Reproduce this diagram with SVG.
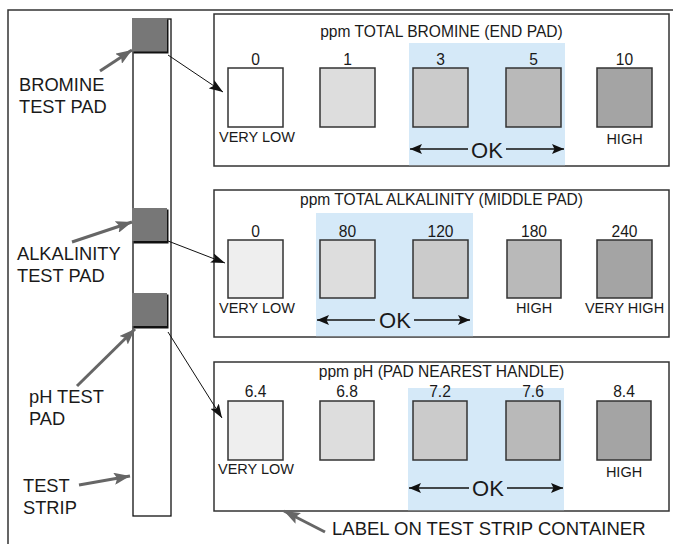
<svg xmlns="http://www.w3.org/2000/svg" width="673" height="544" viewBox="0 0 673 544">
<defs>
<style>
text{font-family:"Liberation Sans",Arial,sans-serif;fill:#1a1a1a}
.frame{fill:none;stroke:#333;stroke-width:1.5}
.panel{fill:#fff;stroke:#333;stroke-width:1.5}
.band{fill:#d5e9f8}
.sw{stroke:#333;stroke-width:1.5}
.title{font-size:15.6px;text-anchor:middle}
.num{font-size:15.6px;text-anchor:middle}
.lbl{font-size:14.5px;text-anchor:middle}
.ok{font-size:22px;text-anchor:middle}
.side{font-size:18.3px}
.okl{stroke:#111;stroke-width:1.3;fill:none}
.conn{stroke:#111;stroke-width:1;fill:none}
.gray{stroke:#666;stroke-width:3;fill:none}
.pad{fill:#777}
.padsh{fill:#111}
</style>
<marker id="ah" viewBox="0 0 14 10" refX="14" refY="5" markerWidth="14" markerHeight="10" markerUnits="userSpaceOnUse" orient="auto"><path d="M0,0 L14,5 L0,10 L3,5 Z" fill="#111"/></marker>
<marker id="okh" viewBox="0 0 12 10" refX="12" refY="5" markerWidth="12" markerHeight="10" markerUnits="userSpaceOnUse" orient="auto-start-reverse"><path d="M0,0 L12,5 L0,10 L2.5,5 Z" fill="#111"/></marker>
<marker id="gh" viewBox="0 0 16 12" refX="16" refY="6" markerWidth="16" markerHeight="12" markerUnits="userSpaceOnUse" orient="auto"><path d="M0,0 L16,6 L0,12 L3,6 Z" fill="#666"/></marker>
</defs>
<rect class="frame" x="8" y="10" width="700" height="600"/>

<g id="strip">
<rect x="133" y="19" width="38" height="497" fill="#fff" stroke="#111" stroke-width="1.3"/>
</g>
<g id="bromine-pad"><rect class="padsh" x="133.5" y="19.5" width="35" height="34"/><rect class="pad" x="132" y="18" width="35" height="33.5"/></g>
<g id="alkalinity-pad"><rect class="padsh" x="133.5" y="209.5" width="35" height="34"/><rect class="pad" x="132" y="208" width="35" height="33"/></g>
<g id="ph-pad"><rect class="padsh" x="133.5" y="294.5" width="35" height="34"/><rect class="pad" x="132" y="293" width="35" height="33"/></g>

<g id="side-labels">
<text class="side" x="19" y="91">BROMINE</text>
<text class="side" x="19" y="113">TEST PAD</text>
<text class="side" x="17" y="260">ALKALINITY</text>
<text class="side" x="17" y="282">TEST PAD</text>
<text class="side" x="29" y="403">pH TEST</text>
<text class="side" x="29" y="425">PAD</text>
<text class="side" x="23" y="492">TEST</text>
<text class="side" x="23" y="514">STRIP</text>
<text class="side" x="332" y="535" style="font-size:18.5px">LABEL ON TEST STRIP CONTAINER</text>
</g>

<g id="panel-bromine">
<rect class="panel" x="214" y="14" width="455" height="152"/>
<rect class="band" x="409" y="43" width="156" height="122.2"/>
<text class="title" x="441.5" y="37">ppm TOTAL BROMINE (END PAD)</text>
<rect class="sw" x="228" y="68" width="55" height="59" fill="#ffffff"/>
<rect class="sw" x="320" y="68" width="55" height="59" fill="#dddddd"/>
<rect class="sw" x="413" y="68" width="55" height="59" fill="#cbcbcb"/>
<rect class="sw" x="506" y="68" width="55" height="59" fill="#b9b9b9"/>
<rect class="sw" x="597" y="68" width="55" height="59" fill="#a4a4a4"/>
<text class="num" x="255.5" y="65">0</text>
<text class="num" x="347.5" y="65">1</text>
<text class="num" x="440.5" y="65">3</text>
<text class="num" x="533.5" y="65">5</text>
<text class="num" x="624.5" y="65">10</text>
<text class="lbl" x="257" y="142">VERY LOW</text>
<text class="lbl" x="624.5" y="144">HIGH</text>
<line class="okl" x1="410" y1="149" x2="468" y2="149" marker-start="url(#okh)"/>
<line class="okl" x1="506" y1="149" x2="564" y2="149" marker-end="url(#okh)"/>
<text class="ok" x="487" y="158">OK</text>
</g>

<g id="panel-alkalinity">
<rect class="panel" x="214" y="190" width="455" height="147"/>
<rect class="band" x="316" y="213" width="157" height="123.2"/>
<text class="title" x="441.5" y="205">ppm TOTAL ALKALINITY (MIDDLE PAD)</text>
<rect class="sw" x="228" y="240" width="55" height="58" fill="#eeeeee"/>
<rect class="sw" x="320" y="240" width="55" height="58" fill="#dddddd"/>
<rect class="sw" x="413" y="240" width="55" height="58" fill="#cbcbcb"/>
<rect class="sw" x="507" y="240" width="54" height="58" fill="#b9b9b9"/>
<rect class="sw" x="597" y="240" width="55" height="58" fill="#a4a4a4"/>
<text class="num" x="255.5" y="237">0</text>
<text class="num" x="347.5" y="237">80</text>
<text class="num" x="440.5" y="237">120</text>
<text class="num" x="534" y="237">180</text>
<text class="num" x="624.5" y="237">240</text>
<text class="lbl" x="257" y="313">VERY LOW</text>
<text class="lbl" x="534" y="313">HIGH</text>
<text class="lbl" x="624.5" y="313">VERY HIGH</text>
<line class="okl" x1="317" y1="320" x2="375" y2="320" marker-start="url(#okh)"/>
<line class="okl" x1="414" y1="320" x2="470" y2="320" marker-end="url(#okh)"/>
<text class="ok" x="395" y="328">OK</text>
</g>

<g id="panel-ph">
<rect class="panel" x="214" y="362" width="455" height="149"/>
<rect class="band" x="408" y="388" width="156" height="122.2"/>
<text class="title" x="441.5" y="377">ppm pH (PAD NEAREST HANDLE)</text>
<rect class="sw" x="228" y="401" width="55" height="59" fill="#eeeeee"/>
<rect class="sw" x="320" y="401" width="54" height="59" fill="#dddddd"/>
<rect class="sw" x="413" y="401" width="54" height="59" fill="#cbcbcb"/>
<rect class="sw" x="506" y="401" width="54" height="59" fill="#b9b9b9"/>
<rect class="sw" x="597" y="401" width="54" height="59" fill="#a4a4a4"/>
<text class="num" x="255.5" y="397">6.4</text>
<text class="num" x="347" y="397">6.8</text>
<text class="num" x="440" y="397">7.2</text>
<text class="num" x="533" y="397">7.6</text>
<text class="num" x="624" y="397">8.4</text>
<text class="lbl" x="256" y="474">VERY LOW</text>
<text class="lbl" x="624" y="477">HIGH</text>
<line class="okl" x1="409" y1="488" x2="469" y2="488" marker-start="url(#okh)"/>
<line class="okl" x1="507" y1="488" x2="563" y2="488" marker-end="url(#okh)"/>
<text class="ok" x="488" y="496">OK</text>
</g>

<g id="connectors">
<line class="conn" x1="168" y1="55" x2="223" y2="92" marker-end="url(#ah)"/>
<line class="conn" x1="168" y1="241" x2="225" y2="263" marker-end="url(#ah)"/>
<line class="conn" x1="168" y1="332" x2="222" y2="418" marker-end="url(#ah)"/>
<line class="gray" x1="100" y1="71" x2="132" y2="50" marker-end="url(#gh)"/>
<line class="gray" x1="72" y1="242" x2="132" y2="222" marker-end="url(#gh)"/>
<line class="gray" x1="77" y1="386" x2="135" y2="329" marker-end="url(#gh)"/>
<line class="gray" x1="79" y1="485" x2="130" y2="476" marker-end="url(#gh)"/>
<line class="gray" x1="325" y1="532" x2="284" y2="511" marker-end="url(#gh)"/>
</g>
</svg>
